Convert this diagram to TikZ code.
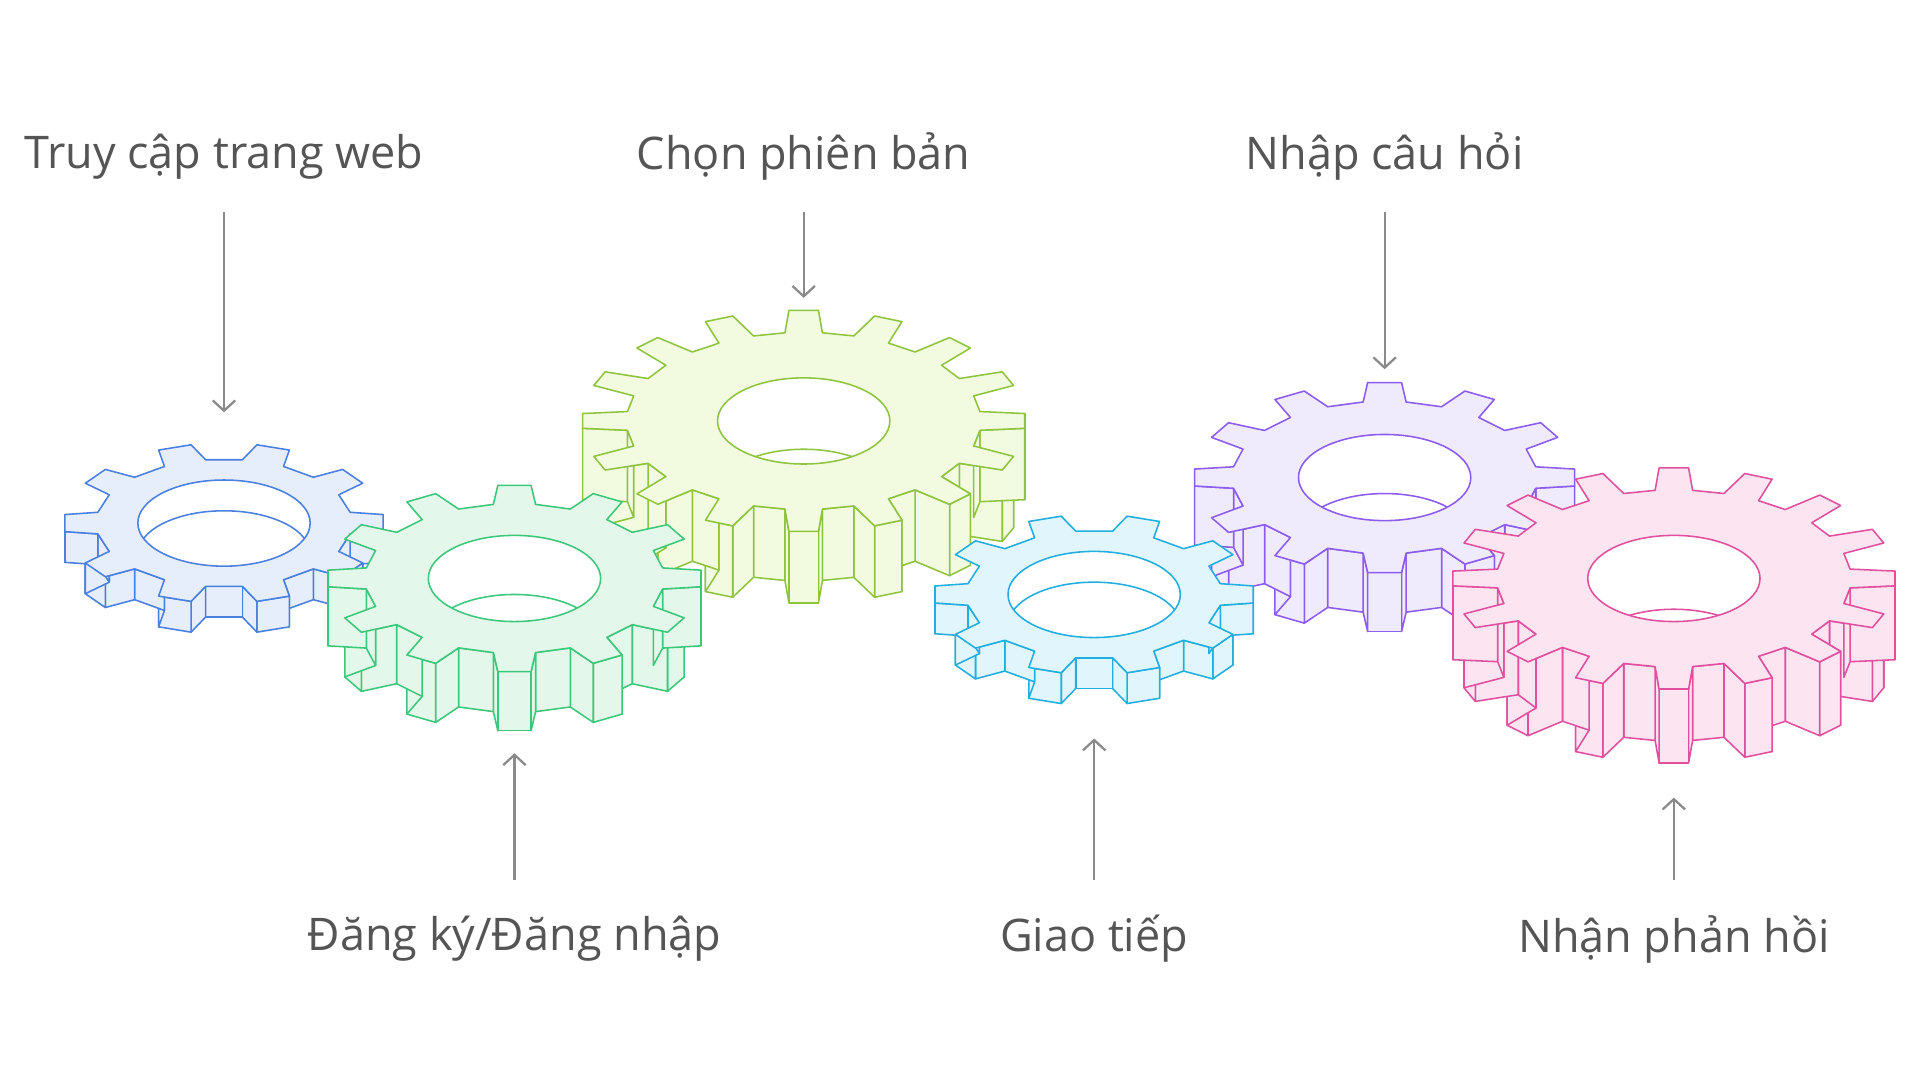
\documentclass[tikz,border=0pt]{standalone}
\usepackage{fontspec}
\setmainfont{Open Sans}
\usetikzlibrary{arrows.meta}
\definecolor{txt}{HTML}{555555}
\definecolor{arr}{HTML}{8A8A8A}
\definecolor{limeS}{HTML}{8FC43E}\definecolor{limeF}{HTML}{F2FADF}
\definecolor{violS}{HTML}{8C5CEE}\definecolor{violF}{HTML}{EFEBFD}
\definecolor{blueS}{HTML}{4A80E0}\definecolor{blueF}{HTML}{E6EEFB}
\definecolor{grenS}{HTML}{3DC77A}\definecolor{grenF}{HTML}{E3F8EA}
\definecolor{cyanS}{HTML}{22AEDE}\definecolor{cyanF}{HTML}{E1F5FC}
\definecolor{pinkS}{HTML}{E0509E}\definecolor{pinkF}{HTML}{FCE4F1}

% gear point: angle index, radius factor, drop
\newcommand{\gpt}[3]{({\cx+\R*(#2)*cos((#1)*\s)}, {\cy+#3+0.5*\R*(#2)*sin((#1)*\s)})}
% \gear{cx}{cy}{R}{teeth}{thickness}{stroke}{fill}
\newcommand{\gear}[7]{%
  \def\cx{#1}\def\cy{#2}\def\R{#3}\def\h{#5}%
  \pgfmathsetmacro{\s}{360/#4}%
  \begin{scope}[draw=#6, fill=#7, line width=1.8pt, line join=round]
    % side walls (front half only)
    \foreach \k in {1,...,#4} {
      \foreach \ao/\ar/\bo/\br in {-0.27/0.8/-0.17/1, -0.17/1/0.17/1, 0.17/1/0.27/0.8, 0.27/0.8/0.73/0.8} {
        \pgfmathparse{sin((\k+(\ao+\bo)/2)*\s) > -0.05 ? 1 : 0}
        \ifnum\pgfmathresult=1
          \filldraw \gpt{\k+\ao}{\ar}{0} -- \gpt{\k+\bo}{\br}{0} -- \gpt{\k+\bo}{\br}{\h} -- \gpt{\k+\ao}{\ar}{\h} -- cycle;
        \fi
      }
    }
    % top face
    \filldraw \gpt{0.73}{0.8}{0} \foreach \k in {1,...,#4} {
      -- \gpt{\k-0.27}{0.8}{0} -- \gpt{\k-0.17}{1}{0} -- \gpt{\k+0.17}{1}{0} -- \gpt{\k+0.27}{0.8}{0}
    } -- cycle;
    % hole
    \filldraw[fill=white] (\cx,\cy) ellipse [x radius=70, y radius=35];
    \begin{scope}
      \clip (\cx,\cy) ellipse [x radius=70, y radius=35];
      \draw (\cx,\cy+\h) ellipse [x radius=70, y radius=35];
    \end{scope}
  \end{scope}}

\tikzset{
  label/.style={text=txt, font=\fontsize{52}{60}\selectfont},
  pointer/.style={draw=arr, line width=2.6pt, -{Straight Barb[length=12pt, width=26pt, line width=2.6pt]}}
}

\begin{document}
\begin{tikzpicture}[x=0.05cm, y=-0.05cm]
  \useasboundingbox[fill=white] (0,0) rectangle (1560,878);

  % gears, back to front
  \gear{653}{342}{180}{16}{58}{limeS}{limeF}
  \gear{1125}{388}{155}{12}{48}{violS}{violF}
  \gear{182}{425}{130}{10}{25}{blueS}{blueF}
  \gear{418}{470}{152}{12}{48}{grenS}{grenF}
  \gear{889}{483}{130}{10}{25}{cyanS}{cyanF}
  \gear{1360}{470}{180}{16}{60}{pinkS}{pinkF}

  % labels
  \node[label] (web) at (182,127) {Truy cập trang web};
  \node[label] (ver) at (653,127) {Chọn phiên bản};
  \node[label] (ask) at (1125,127) {Nhập câu hỏi};
  \node[label] (login) at (418,763) {Đăng ký/Đăng nhập};
  \node[label] (talk) at (889,763) {Giao tiếp};
  \node[label] (reply) at (1360,763) {Nhận phản hồi};

  \coordinate (webT) at (182,335);
  \coordinate (verT) at (653,242);
  \coordinate (askT) at (1125,300);
  \coordinate (loginT) at (418,612);
  \coordinate (talkT) at (889,600);
  \coordinate (replyT) at (1360,648);

  % arrows
  \draw[pointer] (182,172) -- (webT);
  \draw[pointer] (653,172) -- (verT);
  \draw[pointer] (1125,172) -- (askT);
  \draw[pointer] (418,715) -- (loginT);
  \draw[pointer] (889,715) -- (talkT);
  \draw[pointer] (1360,715) -- (replyT);
\end{tikzpicture}
\end{document}
